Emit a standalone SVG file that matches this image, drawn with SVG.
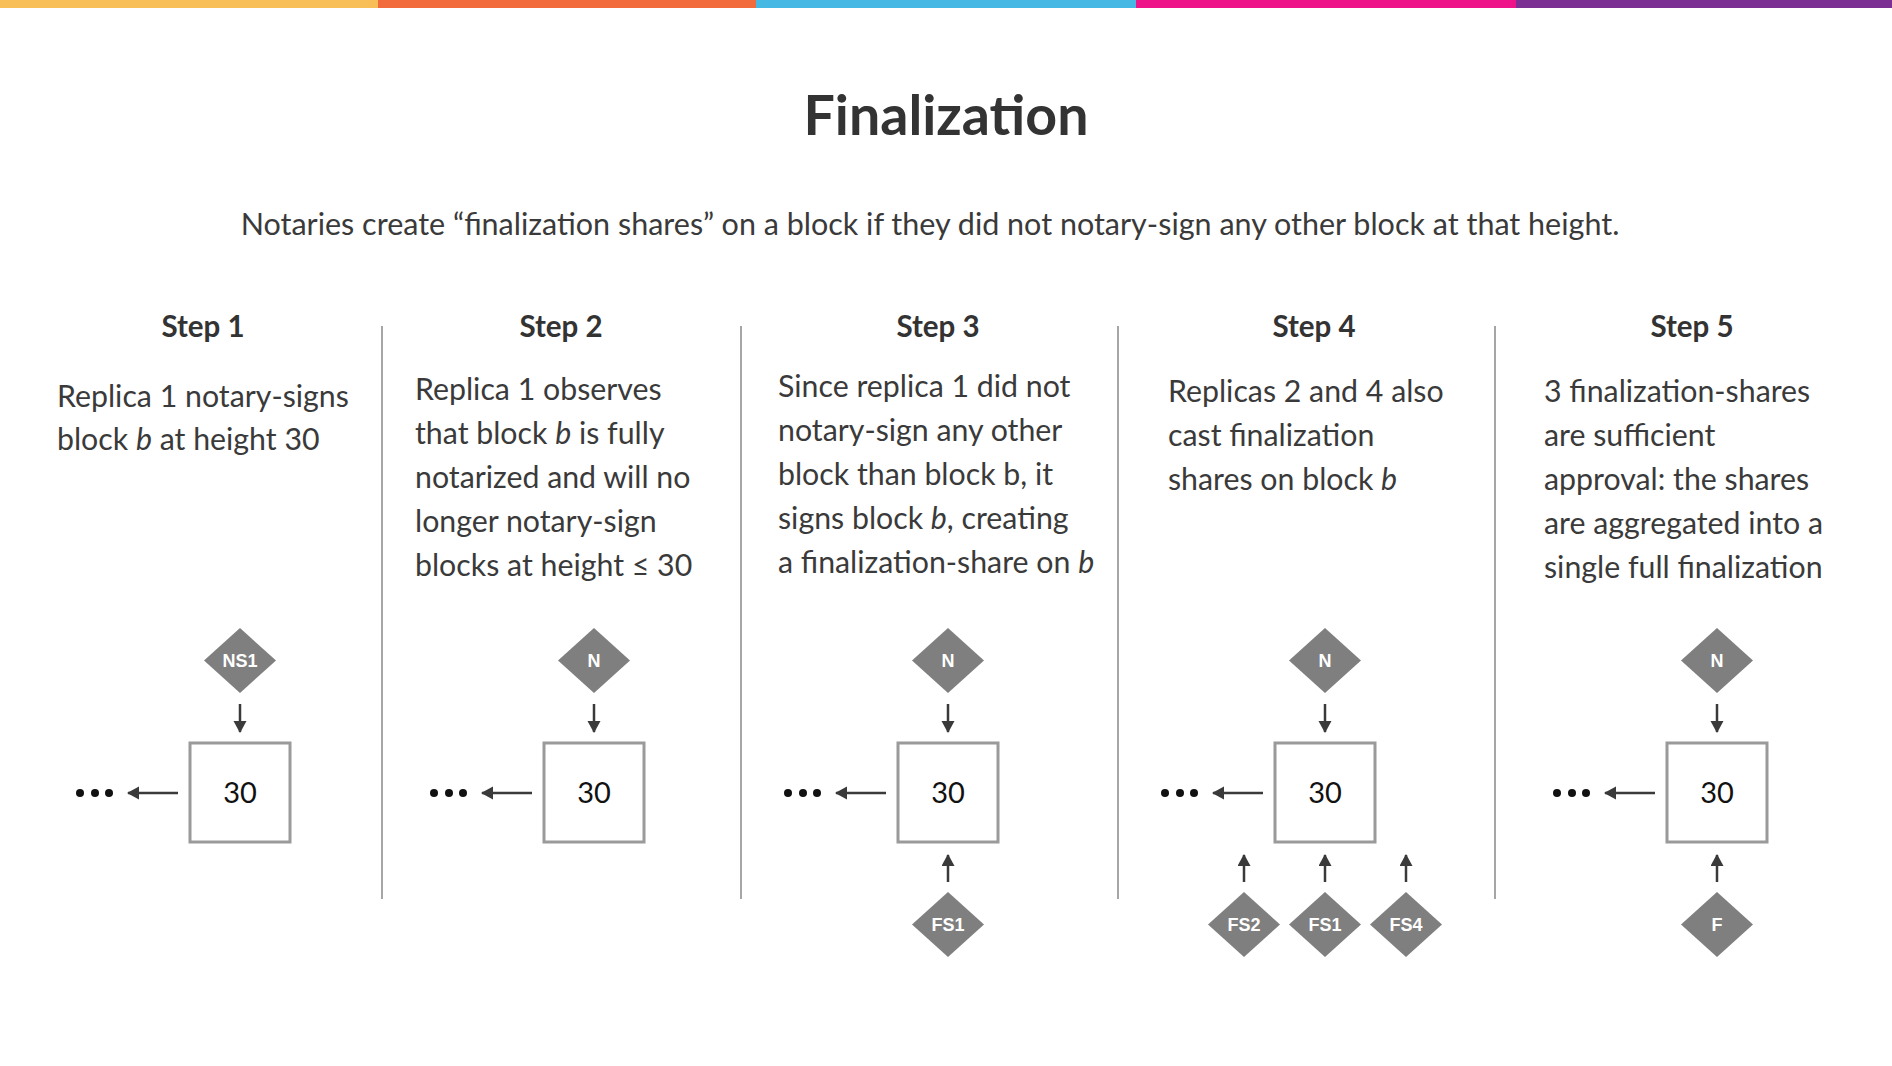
<svg xmlns="http://www.w3.org/2000/svg" width="1892" height="1066" viewBox="0 0 1892 1066">
<style>
.title{font-family:Lato,"Liberation Sans",sans-serif;font-weight:700;font-size:55.5px;fill:#333;text-anchor:middle}
.sub{font-family:Lato,"Liberation Sans",sans-serif;font-size:30.5px;fill:#3a3a3a;text-anchor:middle}
.step{font-family:Lato,"Liberation Sans",sans-serif;font-weight:700;font-size:29.5px;fill:#333;text-anchor:middle}
.body{font-family:Lato,"Liberation Sans",sans-serif;font-size:30.3px;fill:#3a3a3a}
.div{stroke:#888;stroke-width:1.5}
.box{fill:#fff;stroke:#9a9a9a;stroke-width:3}
.num{font-family:Lato,"Liberation Sans",sans-serif;font-size:29px;fill:#111;text-anchor:middle}
.dia{fill:#7f7f7f}
.dl{font-family:"Liberation Sans",Arial,sans-serif;font-weight:700;font-size:18px;fill:#fff;text-anchor:middle}
.arr{stroke:#3a3a3a;stroke-width:2.5;fill:none;marker-end:url(#ah)}
.dot{fill:#111}
</style>
<defs>
<marker id="ah" markerUnits="userSpaceOnUse" markerWidth="14" markerHeight="14" refX="11" refY="6.5" orient="auto">
<path d="M0,0 L12,6.5 L0,13 Z" fill="#3a3a3a"/>
</marker>
</defs>
<rect x="0" y="0" width="1892" height="1066" fill="#fff"/>
<g id="topbar">
<rect x="0" y="0" width="379" height="8" fill="#F8BE57"/>
<rect x="378" y="0" width="379" height="8" fill="#F26B3C"/>
<rect x="756" y="0" width="381" height="8" fill="#46B8E4"/>
<rect x="1136" y="0" width="381" height="8" fill="#EE1389"/>
<rect x="1516" y="0" width="376" height="8" fill="#7B2F93"/>
</g>
<text class="title" x="946" y="135">Finalization</text>
<text class="sub" x="930" y="235">Notaries create “finalization shares” on a block if they did not notary-sign any other block at that height.</text>
<g id="dividers">
<line class="div" x1="382" y1="326" x2="382" y2="899"/>
<line class="div" x1="741" y1="326" x2="741" y2="899"/>
<line class="div" x1="1118" y1="326" x2="1118" y2="899"/>
<line class="div" x1="1495" y1="326" x2="1495" y2="899"/>
</g>
<g id="step1">
<text class="step" x="203" y="337">Step 1</text>
<text class="body" x="57" y="407">Replica 1 notary-signs</text>
<text class="body" x="57" y="450">block <tspan font-style="italic">b</tspan> at height 30</text>
</g>
<g id="step2">
<text class="step" x="561" y="337">Step 2</text>
<text class="body" x="415" y="400">Replica 1 observes</text>
<text class="body" x="415" y="444">that block <tspan font-style="italic">b</tspan> is fully</text>
<text class="body" x="415" y="488">notarized and will no</text>
<text class="body" x="415" y="532">longer notary-sign</text>
<text class="body" x="415" y="576">blocks at height ≤ 30</text>
</g>
<g id="step3">
<text class="step" x="938" y="337">Step 3</text>
<text class="body" x="778" y="397">Since replica 1 did not</text>
<text class="body" x="778" y="441">notary-sign any other</text>
<text class="body" x="778" y="485">block than block b, it</text>
<text class="body" x="778" y="529">signs block <tspan font-style="italic">b</tspan>, creating</text>
<text class="body" x="778" y="573">a finalization-share on <tspan font-style="italic">b</tspan></text>
</g>
<g id="step4">
<text class="step" x="1314" y="337">Step 4</text>
<text class="body" x="1168" y="402">Replicas 2 and 4 also</text>
<text class="body" x="1168" y="446">cast finalization</text>
<text class="body" x="1168" y="490">shares on block <tspan font-style="italic">b</tspan></text>
</g>
<g id="step5">
<text class="step" x="1692" y="337">Step 5</text>
<text class="body" x="1544" y="402">3 finalization-shares</text>
<text class="body" x="1544" y="446">are sufficient</text>
<text class="body" x="1544" y="490">approval: the shares</text>
<text class="body" x="1544" y="534">are aggregated into a</text>
<text class="body" x="1544" y="578">single full finalization</text>
</g>
<g id="connectors">
<path class="arr" d="M240,704 V732"/>
<path class="arr" d="M178,793 H128"/>
<path class="arr" d="M594,704 V732"/>
<path class="arr" d="M532,793 H482"/>
<path class="arr" d="M948,704 V732"/>
<path class="arr" d="M886,793 H836"/>
<path class="arr" d="M948,882 V855"/>
<path class="arr" d="M1325,704 V732"/>
<path class="arr" d="M1263,793 H1213"/>
<path class="arr" d="M1244,882 V855"/>
<path class="arr" d="M1325,882 V855"/>
<path class="arr" d="M1406,882 V855"/>
<path class="arr" d="M1717,704 V732"/>
<path class="arr" d="M1655,793 H1605"/>
<path class="arr" d="M1717,882 V855"/>
</g>
<g id="ellipsis">
<circle class="dot" cx="80" cy="793" r="4"/><circle class="dot" cx="95" cy="793" r="4"/><circle class="dot" cx="109" cy="793" r="4"/>
<circle class="dot" cx="434" cy="793" r="4"/><circle class="dot" cx="449" cy="793" r="4"/><circle class="dot" cx="463" cy="793" r="4"/>
<circle class="dot" cx="788" cy="793" r="4"/><circle class="dot" cx="803" cy="793" r="4"/><circle class="dot" cx="817" cy="793" r="4"/>
<circle class="dot" cx="1165" cy="793" r="4"/><circle class="dot" cx="1180" cy="793" r="4"/><circle class="dot" cx="1194" cy="793" r="4"/>
<circle class="dot" cx="1557" cy="793" r="4"/><circle class="dot" cx="1572" cy="793" r="4"/><circle class="dot" cx="1586" cy="793" r="4"/>
</g>
<g id="block1"><rect class="box" x="190" y="743" width="100" height="99"/><text class="num" x="240" y="803">30</text></g>
<g id="block2"><rect class="box" x="544" y="743" width="100" height="99"/><text class="num" x="594" y="803">30</text></g>
<g id="block3"><rect class="box" x="898" y="743" width="100" height="99"/><text class="num" x="948" y="803">30</text></g>
<g id="block4"><rect class="box" x="1275" y="743" width="100" height="99"/><text class="num" x="1325" y="803">30</text></g>
<g id="block5"><rect class="box" x="1667" y="743" width="100" height="99"/><text class="num" x="1717" y="803">30</text></g>
<g id="ns1"><polygon class="dia" points="240,628 276,660.5 240,693 204,660.5"/><text class="dl" x="240" y="667">NS1</text></g>
<g id="n2"><polygon class="dia" points="594,628 630,660.5 594,693 558,660.5"/><text class="dl" x="594" y="667">N</text></g>
<g id="n3"><polygon class="dia" points="948,628 984,660.5 948,693 912,660.5"/><text class="dl" x="948" y="667">N</text></g>
<g id="fs1-3"><polygon class="dia" points="948,892 984,924.5 948,957 912,924.5"/><text class="dl" x="948" y="931">FS1</text></g>
<g id="n4"><polygon class="dia" points="1325,628 1361,660.5 1325,693 1289,660.5"/><text class="dl" x="1325" y="667">N</text></g>
<g id="fs2"><polygon class="dia" points="1244,892 1280,924.5 1244,957 1208,924.5"/><text class="dl" x="1244" y="931">FS2</text></g>
<g id="fs1-4"><polygon class="dia" points="1325,892 1361,924.5 1325,957 1289,924.5"/><text class="dl" x="1325" y="931">FS1</text></g>
<g id="fs4"><polygon class="dia" points="1406,892 1442,924.5 1406,957 1370,924.5"/><text class="dl" x="1406" y="931">FS4</text></g>
<g id="n5"><polygon class="dia" points="1717,628 1753,660.5 1717,693 1681,660.5"/><text class="dl" x="1717" y="667">N</text></g>
<g id="f5"><polygon class="dia" points="1717,892 1753,924.5 1717,957 1681,924.5"/><text class="dl" x="1717" y="931">F</text></g>
</svg>
